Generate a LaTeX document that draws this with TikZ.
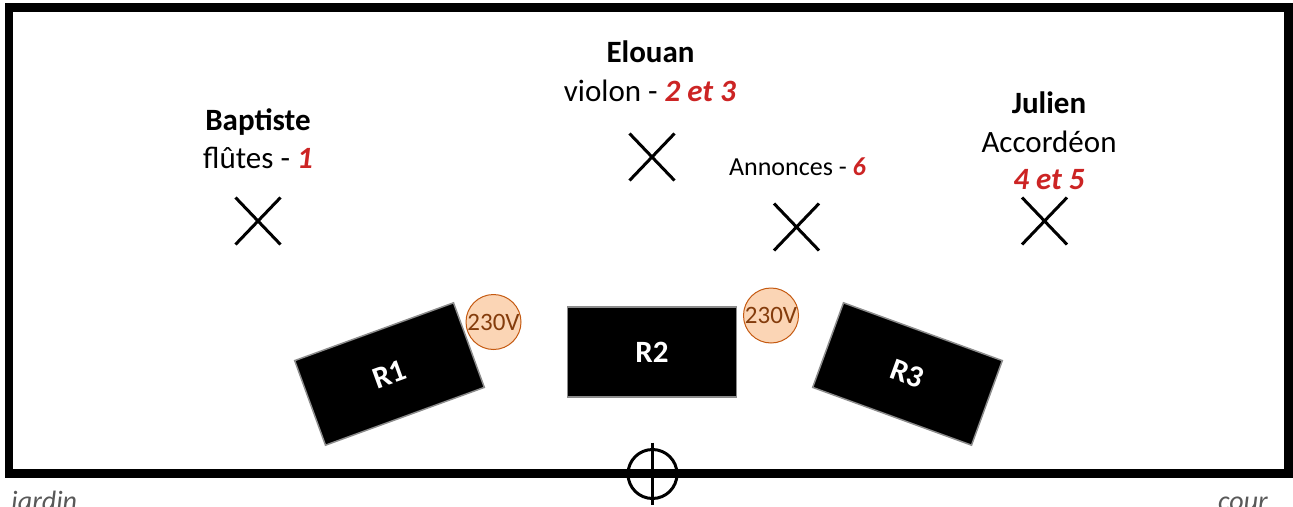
\documentclass[tikz,border=0pt]{standalone}
\usepackage{fontspec}
\setmainfont{Carlito}
\usetikzlibrary{shapes.misc}
\definecolor{numred}{RGB}{204,36,36}
\definecolor{plugfill}{RGB}{251,213,181}
\definecolor{plugline}{RGB}{197,90,17}
\definecolor{plugtext}{RGB}{132,60,12}
\definecolor{sidegray}{RGB}{89,89,89}
\newcommand{\morceau}[1]{\textcolor{numred}{\textbf{\textit{#1}}}}
\tikzset{
	nom/.style={font=\fontsize{31}{37}\selectfont\bfseries, anchor=base, inner sep=0pt},
	role/.style={font=\fontsize{31}{37}\selectfont, anchor=base, inner sep=0pt},
	spot/.style={draw, cross out, line width=3pt, minimum width=42pt, minimum height=44pt, inner sep=0pt},
	enceinte/.style={draw=black!45, line width=1.5pt, fill=black, text=white, minimum width=169pt, minimum height=90pt, inner sep=0pt, font=\fontsize{31}{37}\selectfont\bfseries},
	prise/.style={circle, draw=plugline, line width=1pt, fill=plugfill, text=plugtext, minimum size=55pt, inner sep=0pt, font=\fontsize{25}{29}\selectfont},
	cote/.style={font=\fontsize{28}{33}\selectfont\itshape, text=sidegray, inner sep=0pt}
}
\begin{document}
\begin{tikzpicture}[x=1pt, y=-1pt]
			%%%%% START %%%%%
			\useasboundingbox (0,0) rectangle (1293,506);
			
			% scene
			\draw[line width=8.5pt, line join=miter] (9,7.5) rectangle (1288.5,473.5);
			
			% centre de la scene
			\node[circle, draw, line width=3pt, minimum size=49pt, inner sep=0pt] (centre) at (652.5,474) {};
			\draw[line width=3.5pt] ([yshift=5.5pt]centre.north) -- ([yshift=-4.5pt]centre.south);
			
			% musiciens
			\node[nom] (baptiste) at (258,130) {Baptiste};
			\node[role] (flutes) at (258,168) {flûtes - \morceau{1}};
			\node[spot] (xbaptiste) at (258,221) {};
			
			\node[nom] (elouan) at (650.5,62) {Elouan};
			\node[role] (violon) at (650,101) {violon - \morceau{2 et 3}};
			\node[spot] (xelouan) at (652,157) {};
			
			\node[role, font=\fontsize{26}{31}\selectfont] (annonces) at (797.5,175) {Annonces - \morceau{6}};
			\node[spot] (xannonces) at (796.5,227) {};
			
			\node[nom] (julien) at (1049,113) {Julien};
			\node[role] (accordeon) at (1049,152) {Accordéon};
			\node[role] (numjulien) at (1049,189) {\morceau{4 et 5}};
			\node[spot] (xjulien) at (1044.5,221) {};
			
			% retours
			\node[enceinte, rotate=20] (r1) at (389.5,374) {R1};
			\node[enceinte] (r2) at (652,352) {R2};
			\node[enceinte, rotate=-20] (r3) at (907.5,374) {R3};
			
			% prises
			\node[prise] (prise1) at (493.5,322) {230V};
			\node[prise] (prise2) at (771,315.5) {230V};
			
			% cotes
			\node[cote, anchor=base west] (jardin) at (11,510) {jardin};
			\node[cote, anchor=base east] (cour) at (1268,510) {cour};
			%%%%% END %%%%%
\end{tikzpicture}
\end{document}
